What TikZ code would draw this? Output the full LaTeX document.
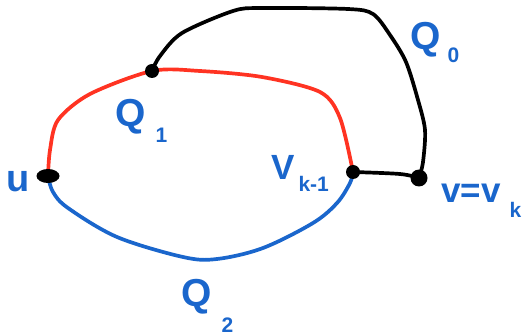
\documentclass[tikz,border=0pt]{standalone}
\usepackage{fontspec}
\setmainfont{Liberation Sans}
\usetikzlibrary{shapes.geometric}
\definecolor{qblue}{RGB}{26,102,204}
\definecolor{qred}{RGB}{255,51,34}
% lowered index: gap, drop, text
\newcommand{\lowsub}[3]{\hspace{#1pt}\raisebox{-#2pt}{\fontsize{21}{21}\selectfont #3}}

\begin{document}
\begin{tikzpicture}[x=1pt,y=-1pt,
  dot/.style={circle,fill=black,inner sep=0pt,minimum size=#1},
  dot/.default=14pt,
  lbl/.style={anchor=base west,inner sep=0pt,text=qblue,font=\bfseries\fontsize{#1}{#1}\selectfont},
  lbl/.default=39,
  wire/.style={line width=3.7pt,line cap=round,line join=round}]
  \useasboundingbox (0,0) rectangle (526,336);
  \coordinate (u) at (48,176);
  \coordinate (q1) at (152,71);
  \coordinate (vk) at (353,172);
  \coordinate (v) at (419,178);
  % the three paths
  \draw[wire,qred] plot[smooth,tension=0.5] coordinates {(u) (50,150) (58,120) (90,94) (q1) (200,71) (262,77) (320,92) (340,118) (vk)};
  \draw[wire,qblue] plot[smooth,tension=0.55] coordinates {(u) (53,192) (68,208) (117,237) (183,257) (217,259) (263,248) (313,223) (337,203) (350,183) (vk)};
  \draw[wire] plot[smooth,tension=0.5] coordinates {(q1) (160,56) (182,33) (233,11) (262,8) (348,9) (373,14) (390,35) (406,62) (418,100) (425,130) (423,162) (v)};
  \draw[wire] plot[smooth,tension=0.55] coordinates {(vk) (400,174) (v)};
  % vertices
  \node[ellipse,fill=black,inner sep=0pt,minimum width=23pt,minimum height=14pt] (udot) at (u) {};
  \node[dot] (q1dot) at (q1) {};
  \node[dot] (vkdot) at (vk) {};
  \node[dot=17pt] (vdot) at (v) {};
  % labels
  \node[lbl=38] (ulbl) at (6,192) {u};
  \node[lbl] (q1lbl) at (115,127) {Q\lowsub{10}{16}{1}};
  \node[lbl] (q0lbl) at (410,50) {Q\lowsub{7}{13}{0}};
  \node[lbl] (q2lbl) at (181,306) {Q\lowsub{10}{26}{2}};
  \node[lbl=35] (vklbl) at (271,180) {V\lowsub{4}{12}{k-1}};
  \node[lbl=35] (vlbl) at (441,203) {v=v\lowsub{9}{15}{k}};
\end{tikzpicture}
\end{document}
